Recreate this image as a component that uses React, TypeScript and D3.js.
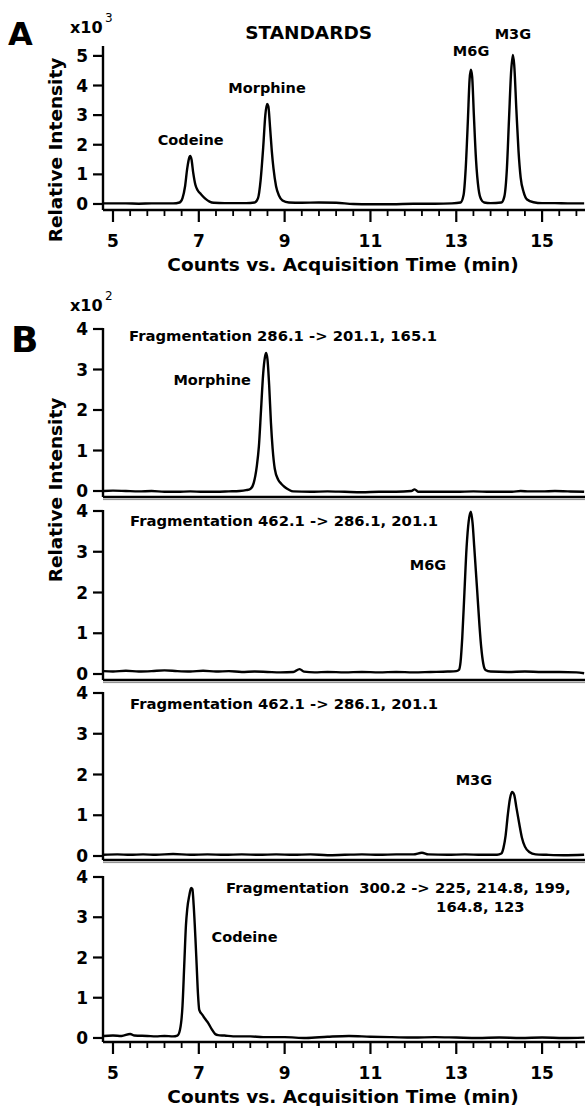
import * as d3 from "d3";

const W = 586;
const H = 1106;
const FONT = "'DejaVu Sans', Verdana, sans-serif";

// retention time axis (min)
const timeDomain = [4.767, 16.0];
const majorTimes = [5, 7, 9, 11, 13, 15];
const minorTimes = [5.4, 5.8, 6.2, 6.6, 7.4, 7.8, 8.2, 8.6, 9.4, 9.8, 10.2, 10.6, 11.4, 11.8, 12.2, 12.6, 13.4, 13.8, 14.2, 14.6, 15.4, 15.8];
const yTicksA = [0, 1, 2, 3, 4, 5];
const yTicksB = [0, 1, 2, 3, 4];

// A: standards mix, x10^3 counts
const standardsTrace = [
  [4.78, 0.02], [4.9, 0.02], [5.3, 0.02], [5.6, 0.01], [5.9, 0.02], [6.2, 0.02], [6.4, 0.02],
  [6.55, 0.05], [6.62, 0.2], [6.68, 0.6], [6.73, 1.2], [6.78, 1.58], [6.8, 1.62], [6.83, 1.5],
  [6.87, 1.05], [6.92, 0.65], [6.97, 0.47], [7.05, 0.33], [7.15, 0.18], [7.25, 0.08], [7.35, 0.04],
  [7.6, 0.03], [7.9, 0.03], [8.1, 0.03], [8.3, 0.05], [8.38, 0.2], [8.44, 0.8], [8.5, 1.9],
  [8.55, 3.0], [8.59, 3.38], [8.62, 3.3], [8.66, 2.6], [8.7, 1.8], [8.74, 1.2], [8.8, 0.6],
  [8.87, 0.28], [8.95, 0.12], [9.1, 0.05], [9.4, 0.04], [9.8, 0.05], [10.2, 0.04], [10.6, 0.0],
  [11.0, -0.01], [11.5, -0.01], [12.0, 0.01], [12.5, 0.01], [12.9, 0.02], [13.1, 0.05],
  [13.17, 0.3], [13.22, 1.2], [13.27, 2.8], [13.31, 4.2], [13.34, 4.53], [13.37, 4.3],
  [13.41, 3.0], [13.46, 1.5], [13.52, 0.5], [13.58, 0.15], [13.65, 0.05], [13.8, 0.03],
  [14.05, 0.05], [14.12, 0.25], [14.18, 1.2], [14.23, 2.9], [14.28, 4.5], [14.32, 5.03],
  [14.35, 4.7], [14.4, 3.2], [14.45, 1.8], [14.5, 0.9], [14.57, 0.4], [14.65, 0.15],
  [14.8, 0.06], [15.0, 0.03], [15.3, 0.03], [15.6, 0.02], [15.98, 0.02],
];

// B: MRM traces, x10^2 counts
const morphineTrace = [
  [4.78, 0.0], [5.0, 0.01], [5.3, 0.0], [5.6, -0.01], [5.9, 0.0], [6.2, -0.02], [6.5, -0.02],
  [6.8, -0.01], [7.1, -0.02], [7.4, -0.02], [7.7, -0.01], [7.95, 0.0], [8.1, 0.02], [8.2, 0.05],
  [8.28, 0.2], [8.35, 0.6], [8.4, 1.1], [8.45, 2.0], [8.5, 2.9], [8.54, 3.3], [8.57, 3.41],
  [8.6, 3.25], [8.64, 2.6], [8.68, 1.7], [8.72, 1.05], [8.77, 0.55], [8.85, 0.28], [8.92, 0.18],
  [9.0, 0.1], [9.1, 0.03], [9.2, -0.01], [9.6, -0.02], [10.0, -0.01], [10.4, -0.02], [10.8, -0.03],
  [11.2, -0.02], [11.6, -0.02], [11.95, 0.0], [12.03, 0.04], [12.12, -0.02], [12.5, -0.02],
  [13.0, -0.02], [13.4, -0.01], [13.8, -0.02], [14.3, -0.02], [14.5, 0.0], [14.7, -0.01],
  [15.0, -0.01], [15.3, 0.0], [15.6, -0.01], [15.98, -0.02],
];

const m6gTrace = [
  [4.78, 0.07], [5.0, 0.06], [5.3, 0.08], [5.6, 0.06], [5.9, 0.07], [6.2, 0.09], [6.5, 0.07],
  [6.8, 0.06], [7.1, 0.08], [7.4, 0.06], [7.7, 0.07], [8.0, 0.05], [8.3, 0.06], [8.6, 0.05],
  [8.9, 0.04], [9.2, 0.05], [9.35, 0.12], [9.45, 0.06], [9.7, 0.04], [10.0, 0.05], [10.4, 0.04],
  [10.8, 0.05], [11.2, 0.04], [11.6, 0.05], [12.0, 0.04], [12.4, 0.05], [12.8, 0.06],
  [13.0, 0.07], [13.06, 0.1], [13.1, 0.3], [13.14, 0.9], [13.19, 2.0], [13.24, 3.1],
  [13.29, 3.75], [13.34, 3.98], [13.38, 3.7], [13.42, 3.1], [13.49, 2.0], [13.54, 1.2],
  [13.58, 0.67], [13.63, 0.25], [13.68, 0.1], [13.8, 0.06], [14.2, 0.05], [14.6, 0.06],
  [15.0, 0.05], [15.4, 0.05], [15.8, 0.04], [15.98, 0.02],
];

const m3gTrace = [
  [4.78, 0.03], [5.1, 0.04], [5.4, 0.03], [5.7, 0.04], [6.0, 0.03], [6.4, 0.05], [6.8, 0.03],
  [7.2, 0.04], [7.6, 0.03], [8.0, 0.04], [8.4, 0.03], [8.8, 0.04], [9.2, 0.03], [9.6, 0.04],
  [10.0, 0.02], [10.4, 0.03], [10.8, 0.04], [11.2, 0.03], [11.6, 0.04], [12.0, 0.04],
  [12.2, 0.08], [12.35, 0.04], [12.8, 0.03], [13.2, 0.04], [13.6, 0.03], [13.95, 0.03],
  [14.05, 0.06], [14.1, 0.2], [14.15, 0.5], [14.2, 1.0], [14.25, 1.4], [14.3, 1.57],
  [14.35, 1.5], [14.4, 1.2], [14.47, 0.78], [14.53, 0.45], [14.6, 0.23], [14.7, 0.1],
  [14.85, 0.04], [15.1, 0.03], [15.5, 0.02], [15.98, 0.03],
];

const codeineTrace = [
  [4.78, 0.05], [5.0, 0.06], [5.2, 0.05], [5.4, 0.1], [5.5, 0.06], [5.8, 0.05], [6.0, 0.04],
  [6.2, 0.05], [6.4, 0.04], [6.5, 0.06], [6.56, 0.2], [6.62, 0.8], [6.66, 1.8], [6.7, 2.8],
  [6.73, 3.2], [6.78, 3.55], [6.82, 3.73], [6.85, 3.7], [6.88, 3.3], [6.92, 2.5], [6.95, 1.8],
  [6.98, 1.1], [7.01, 0.7], [7.08, 0.58], [7.15, 0.47], [7.22, 0.37], [7.3, 0.22], [7.38, 0.1],
  [7.45, 0.07], [7.6, 0.06], [7.8, 0.04], [8.2, 0.04], [8.5, 0.02], [9.0, 0.02], [9.5, 0.0],
  [10.0, 0.03], [10.5, 0.05], [11.0, 0.03], [11.5, 0.02], [12.0, 0.01], [12.5, 0.02],
  [13.0, 0.01], [13.5, 0.0], [14.0, 0.01], [14.5, 0.0], [15.0, 0.01], [15.5, 0.0], [15.98, 0.01],
];

const x = d3.scaleLinear().domain(timeDomain).range([103, 585]);

type Label = { text: string; t: number; v: number; anchor: string; size: number };

const panels = [
  {
    trace: standardsTrace, yDomain: [-0.203, 5.3], yRange: [210, 47], ticks: yTicksA,
    labels: [
      { text: "STANDARDS", t: 9.56, v: 5.57, anchor: "middle", size: 18.5 },
      { text: "Codeine", t: 6.81, v: 2.0, anchor: "middle", size: 14.5 },
      { text: "Morphine", t: 8.59, v: 3.75, anchor: "middle", size: 14.5 },
      { text: "M6G", t: 13.345, v: 5.0, anchor: "middle", size: 14.5 },
      { text: "M3G", t: 14.32, v: 5.57, anchor: "middle", size: 14.5 },
    ] as Label[],
  },
  {
    trace: morphineTrace, yDomain: [-0.148, 4], yRange: [497, 329], ticks: yTicksB,
    labels: [
      { text: "Fragmentation 286.1 -> 201.1, 165.1", t: 5.373, v: 3.7, anchor: "start", size: 14.8 },
      { text: "Morphine", t: 7.31, v: 2.62, anchor: "middle", size: 14.5 },
    ] as Label[],
  },
  {
    trace: m6gTrace, yDomain: [-0.147, 4], yRange: [680, 511], ticks: yTicksB,
    labels: [
      { text: "Fragmentation 462.1 -> 286.1, 201.1", t: 5.396, v: 3.63, anchor: "start", size: 14.8 },
      { text: "M6G", t: 12.34, v: 2.55, anchor: "middle", size: 14.5 },
    ] as Label[],
  },
  {
    trace: m3gTrace, yDomain: [-0.098, 4], yRange: [860, 693], ticks: yTicksB,
    labels: [
      { text: "Fragmentation 462.1 -> 286.1, 201.1", t: 5.396, v: 3.61, anchor: "start", size: 14.8 },
      { text: "M3G", t: 13.41, v: 1.74, anchor: "middle", size: 14.5 },
    ] as Label[],
  },
  {
    trace: codeineTrace, yDomain: [-0.1, 4], yRange: [1042, 877], ticks: yTicksB,
    labels: [
      { text: "Fragmentation  300.2 -> 225, 214.8, 199,", t: 7.634, v: 3.6, anchor: "start", size: 14.8 },
      { text: "164.8, 123", t: 12.53, v: 3.13, anchor: "start", size: 14.8 },
      { text: "Codeine", t: 8.065, v: 2.39, anchor: "middle", size: 14.5 },
    ] as Label[],
  },
];

function TimeAxis({ y0 }: { y0: number }) {
  return (
    <g>
      <line x1={103} x2={585} y1={y0} y2={y0} stroke="#000" strokeWidth={2.4} />
      {majorTimes.map((t) => (
        <line key={"M" + t} x1={x(t)} x2={x(t)} y1={y0} y2={y0 + 12} stroke="#000" strokeWidth={2.2} />
      ))}
      {minorTimes.map((t) => (
        <line key={"m" + t} x1={x(t)} x2={x(t)} y1={y0} y2={y0 + 6} stroke="#000" strokeWidth={1.8} />
      ))}
      {majorTimes.map((t) => (
        <text key={"l" + t} x={x(t)} y={y0 + 37} textAnchor="middle" fontSize={17} fontWeight="bold">
          {t}
        </text>
      ))}
      <text x={343} y={y0 + 61} textAnchor="middle" fontSize={18.5} fontWeight="bold">
        Counts vs. Acquisition Time (min)
      </text>
    </g>
  );
}

export default function App() {
  return (
    <svg
      width={W}
      height={H}
      viewBox={`0 0 ${W} ${H}`}
      style={{ position: "absolute", left: 0, top: 0, background: "#fff" }}
      fontFamily={FONT}
      fill="#000"
    >
      <rect width={W} height={H} fill="#fff" />
      {panels.map((p, i) => {
        const y = d3.scaleLinear().domain(p.yDomain).range(p.yRange);
        const line = d3
          .line<number[]>()
          .x((d) => x(d[0]))
          .y((d) => y(d[1]))
          .curve(d3.curveMonotoneX);
        const bottom = p.yRange[0];
        const top = p.yRange[1];
        const withTimeAxis = i === 0 || i === panels.length - 1;
        return (
          <g key={i}>
            <path d={line(p.trace) || ""} fill="none" stroke="#000" strokeWidth={2.4} strokeLinejoin="round" />
            <line x1={103} x2={103} y1={top - 1} y2={bottom} stroke="#000" strokeWidth={2.4} />
            {p.ticks.map((v) => (
              <g key={v}>
                <line x1={93} x2={103} y1={y(v)} y2={y(v)} stroke="#000" strokeWidth={2.2} />
                <text x={88} y={y(v)} dy="0.36em" textAnchor="end" fontSize={17} fontWeight="bold">
                  {v}
                </text>
              </g>
            ))}
            {withTimeAxis ? (
              <TimeAxis y0={bottom} />
            ) : (
              <g>
                <line x1={103} x2={585} y1={bottom} y2={bottom} stroke="#000" strokeWidth={2.4} />
                <line x1={103} x2={585} y1={bottom + 2.6} y2={bottom + 2.6} stroke="#888" strokeWidth={1} />
              </g>
            )}
            {p.labels.map((l, j) => (
              <text
                key={j}
                x={x(l.t)}
                y={y(l.v)}
                textAnchor={l.anchor}
                fontSize={l.size}
                fontWeight="bold"
                style={{ whiteSpace: "pre" }}
              >
                {l.text}
              </text>
            ))}
          </g>
        );
      })}

      {/* panel letters, multipliers and y titles */}
      <text x={8} y={45} fontSize={32} fontWeight="bold">A</text>
      <text x={11} y={352} fontSize={36} fontWeight="bold">B</text>
      <text x={70} y={33} fontSize={16} fontWeight="bold">x10</text>
      <text x={105} y={22} fontSize={12}>3</text>
      <text x={70} y={311} fontSize={16} fontWeight="bold">x10</text>
      <text x={105} y={300} fontSize={12}>2</text>
      <text transform="translate(62,150) rotate(-90)" textAnchor="middle" fontSize={18.5} fontWeight="bold">
        Relative Intensity
      </text>
      <text transform="translate(62,490) rotate(-90)" textAnchor="middle" fontSize={18.5} fontWeight="bold">
        Relative Intensity
      </text>
    </svg>
  );
}
